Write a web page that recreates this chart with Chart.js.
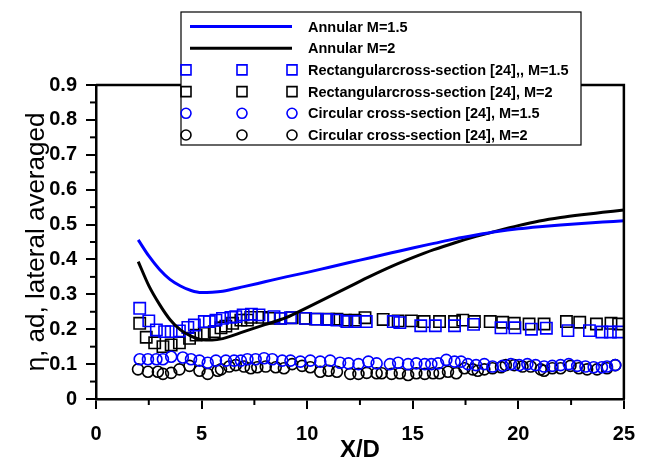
<!DOCTYPE html>
<html>
<head>
<meta charset="utf-8">
<script src="https://cdn.jsdelivr.net/npm/chart.js@4.4.1/dist/chart.umd.min.js"></script>
<style>
  body { margin: 0; background: #fff; }
  #wrap { width: 648px; height: 465px; }
</style>
</head>
<body>
<div id="wrap"><canvas id="myChart" width="648" height="465"></canvas></div>
<script>
// Annular curves (simulation)
var annularX = [2, 2.5, 3, 3.5, 4, 4.5, 5, 5.5, 6, 7, 8, 9, 10, 11, 12, 13, 14, 15, 16, 17, 18, 19, 20, 21, 22, 23, 24, 25];
var annularM15 = [0.456, 0.41, 0.372, 0.343, 0.324, 0.311, 0.305, 0.306, 0.309, 0.322, 0.336, 0.35, 0.363, 0.377, 0.391, 0.405, 0.419, 0.433, 0.446, 0.459, 0.47, 0.48, 0.488, 0.494, 0.499, 0.503, 0.507, 0.511];
var annularM2 = [0.394, 0.325, 0.272, 0.228, 0.198, 0.18, 0.17, 0.169, 0.173, 0.193, 0.213, 0.233, 0.262, 0.292, 0.322, 0.352, 0.38, 0.405, 0.428, 0.448, 0.466, 0.482, 0.497, 0.51, 0.52, 0.528, 0.535, 0.542];

// Rectangular cross-section [24]
var rectM15X = [2.07, 2.5, 2.86, 3.25, 3.56, 3.95, 4.35, 4.66, 5.13, 5.37, 5.68, 5.99, 6.39, 6.62, 6.97, 7.36, 7.72, 8.43, 8.74, 9.21, 9.92, 10.47, 10.94, 11.41, 11.88, 12.27, 12.8, 14.08, 14.39, 15.38, 16.07, 16.98, 17.88, 19.18, 19.84, 20.62, 21.33, 22.35, 23.37, 23.96, 24.36, 24.75];
var rectM15Y = [0.26, 0.224, 0.198, 0.193, 0.193, 0.195, 0.205, 0.212, 0.222, 0.222, 0.226, 0.231, 0.234, 0.236, 0.241, 0.243, 0.241, 0.236, 0.231, 0.233, 0.231, 0.229, 0.228, 0.226, 0.222, 0.222, 0.222, 0.222, 0.219, 0.21, 0.21, 0.21, 0.214, 0.204, 0.204, 0.2, 0.203, 0.196, 0.196, 0.192, 0.192, 0.192];
var rectM2X = [2.07, 2.38, 2.78, 3.17, 3.56, 3.95, 4.43, 4.74, 5.13, 5.6, 5.92, 6.15, 6.47, 6.86, 7.17, 7.33, 7.88, 8.19, 8.74, 9.29, 9.92, 10.39, 11.02, 11.41, 11.81, 12.27, 12.74, 13.6, 14.31, 14.94, 15.54, 16.27, 16.98, 17.37, 17.92, 18.67, 19.26, 19.81, 20.51, 21.22, 22.28, 22.91, 23.7, 24.39, 24.75];
var rectM2Y = [0.217, 0.177, 0.161, 0.15, 0.155, 0.161, 0.174, 0.183, 0.188, 0.193, 0.204, 0.209, 0.217, 0.226, 0.226, 0.234, 0.234, 0.231, 0.231, 0.233, 0.231, 0.229, 0.229, 0.229, 0.226, 0.226, 0.233, 0.228, 0.224, 0.224, 0.222, 0.222, 0.222, 0.226, 0.222, 0.222, 0.22, 0.217, 0.215, 0.215, 0.222, 0.22, 0.215, 0.217, 0.215];

// Circular cross-section [24]
var circM15X = [2.07, 2.46, 2.86, 3.17, 3.56, 4.11, 4.5, 4.9, 5.29, 5.68, 6.15, 6.54, 6.86, 7.17, 7.56, 7.96, 8.35, 8.82, 9.21, 9.68, 10.15, 10.62, 11.09, 11.56, 11.96, 12.43, 12.9, 13.29, 13.92, 14.31, 14.78, 15.17, 15.57, 15.88, 16.2, 16.59, 16.98, 17.29, 17.61, 18.0, 18.39, 18.78, 19.26, 19.65, 20.04, 20.43, 20.82, 21.22, 21.61, 22.0, 22.39, 22.79, 23.18, 23.57, 23.96, 24.2, 24.59];
var circM15Y = [0.114, 0.114, 0.114, 0.114, 0.121, 0.119, 0.114, 0.11, 0.104, 0.11, 0.11, 0.11, 0.11, 0.114, 0.114, 0.117, 0.114, 0.11, 0.11, 0.107, 0.11, 0.107, 0.11, 0.104, 0.102, 0.1, 0.107, 0.102, 0.1, 0.104, 0.1, 0.102, 0.1, 0.1, 0.102, 0.112, 0.107, 0.107, 0.1, 0.097, 0.1, 0.093, 0.095, 0.1, 0.097, 0.1, 0.097, 0.093, 0.095, 0.097, 0.1, 0.095, 0.093, 0.091, 0.091, 0.093, 0.097];
var circM2X = [1.99, 2.46, 2.93, 3.17, 3.56, 3.95, 4.43, 4.9, 5.29, 5.76, 5.92, 6.31, 6.62, 7.01, 7.33, 7.64, 8.04, 8.51, 8.9, 9.29, 9.76, 10.15, 10.62, 11.02, 11.41, 12.04, 12.43, 12.82, 13.29, 13.53, 14.0, 14.39, 14.78, 15.17, 15.57, 15.96, 16.27, 16.67, 17.06, 17.45, 17.84, 18.08, 18.39, 18.78, 19.18, 19.41, 19.81, 20.2, 20.59, 21.06, 21.22, 21.61, 22.0, 22.47, 22.87, 23.26, 23.73, 24.2, 24.59];
var circM2Y = [0.085, 0.078, 0.078, 0.072, 0.075, 0.085, 0.095, 0.081, 0.072, 0.081, 0.085, 0.093, 0.097, 0.093, 0.088, 0.091, 0.093, 0.091, 0.088, 0.1, 0.095, 0.091, 0.078, 0.081, 0.078, 0.072, 0.072, 0.075, 0.074, 0.074, 0.072, 0.074, 0.069, 0.074, 0.072, 0.074, 0.074, 0.078, 0.074, 0.088, 0.085, 0.081, 0.085, 0.088, 0.091, 0.097, 0.097, 0.093, 0.093, 0.085, 0.081, 0.088, 0.088, 0.095, 0.088, 0.085, 0.085, 0.088, 0.097];

var xTicks = [0, 5, 10, 15, 20, 25];
var xMinor = [2.5, 7.5, 12.5, 17.5, 22.5];
var yMinor = [0.05, 0.15, 0.25, 0.35, 0.45, 0.55, 0.65, 0.75, 0.85];

var BLUE = '#0000ff';
var BLACK = '#000000';

function pts(xs, ys) {
    return xs.map(function(x, i) { return { x: x, y: ys[i] }; });
}

Chart.defaults.font.family = '"Liberation Sans", Arial, sans-serif';
Chart.defaults.color = '#000';

// frame, minor ticks and the legend box
var framePlugin = {
    id: 'frame',
    afterDraw: function(chart) {
        var ctx = chart.ctx;
        var a = chart.chartArea;
        var xs = chart.scales.x, ys = chart.scales.y;
        ctx.save();
        ctx.strokeStyle = '#000';
        ctx.lineWidth = 2.5;
        ctx.beginPath();
        ctx.moveTo(a.left, a.top);
        ctx.lineTo(a.right, a.top);
        ctx.lineTo(a.right, a.bottom);
        ctx.stroke();

        ctx.lineWidth = 2;
        xMinor.forEach(function(v) {
            var px = xs.getPixelForValue(v);
            ctx.beginPath();
            ctx.moveTo(px, a.bottom);
            ctx.lineTo(px, a.bottom + 6);
            ctx.stroke();
        });
        yMinor.forEach(function(v) {
            var py = ys.getPixelForValue(v);
            ctx.beginPath();
            ctx.moveTo(a.left - 6, py);
            ctx.lineTo(a.left, py);
            ctx.stroke();
        });

        // legend
        ctx.fillStyle = '#fff';
        ctx.fillRect(181, 12, 400, 133);
        ctx.lineWidth = 1.2;
        ctx.strokeRect(181, 12, 400, 133);
        ctx.font = 'bold 14.5px "Liberation Sans", Arial, sans-serif';
        ctx.textBaseline = 'middle';
        chart.data.datasets.forEach(function(ds, i) {
            var y = 26.5 + i * 21.7;
            ctx.strokeStyle = ds.borderColor;
            if (ds.showLine) {
                ctx.lineWidth = 3;
                ctx.beginPath();
                ctx.moveTo(190, y);
                ctx.lineTo(292, y);
                ctx.stroke();
            } else {
                ctx.lineWidth = 1.6;
                [186, 242, 292].forEach(function(mx) {
                    ctx.beginPath();
                    if (ds.pointStyle === 'rect') {
                        ctx.rect(mx - 5, y - 5, 10, 10);
                    } else {
                        ctx.arc(mx, y, 5, 0, Math.PI * 2);
                    }
                    ctx.stroke();
                });
            }
            ctx.fillStyle = '#000';
            ctx.fillText(ds.label, 308, y + 1);
        });
        ctx.restore();
    }
};

var ctx = document.getElementById('myChart').getContext('2d');
var myChart = new Chart(ctx, {
    type: 'scatter',
    data: {
        datasets: [
            { label: 'Annular M=1.5', data: pts(annularX, annularM15), showLine: true, borderColor: BLUE, borderWidth: 3, pointRadius: 0, cubicInterpolationMode: 'monotone', order: 0 },
            { label: 'Annular M=2', data: pts(annularX, annularM2), showLine: true, borderColor: BLACK, borderWidth: 3, pointRadius: 0, cubicInterpolationMode: 'monotone', order: 0 },
            { label: 'Rectangularcross-section [24],, M=1.5', data: pts(rectM15X, rectM15Y), showLine: false, borderColor: BLUE, backgroundColor: 'rgba(0,0,0,0)', pointStyle: 'rect', pointRadius: 8, borderWidth: 1.6, order: 1 },
            { label: 'Rectangularcross-section [24], M=2', data: pts(rectM2X, rectM2Y), showLine: false, borderColor: BLACK, backgroundColor: 'rgba(0,0,0,0)', pointStyle: 'rect', pointRadius: 8, borderWidth: 1.6, order: 2 },
            { label: 'Circular cross-section [24], M=1.5', data: pts(circM15X, circM15Y), showLine: false, borderColor: BLUE, backgroundColor: 'rgba(0,0,0,0)', pointStyle: 'circle', pointRadius: 5.5, borderWidth: 1.6, order: 1 },
            { label: 'Circular cross-section [24], M=2', data: pts(circM2X, circM2Y), showLine: false, borderColor: BLACK, backgroundColor: 'rgba(0,0,0,0)', pointStyle: 'circle', pointRadius: 5.5, borderWidth: 1.6, order: 2 }
        ]
    },
    options: {
        responsive: false,
        animation: false,
        devicePixelRatio: 1,
        layout: { padding: { top: 85, right: 21, left: 0, bottom: 0 } },
        plugins: { legend: { display: false }, tooltip: { enabled: false } },
        scales: {
            x: {
                type: 'linear', min: 0, max: 25,
                afterFit: function(s) { s.height = 66; },
                afterBuildTicks: function(s) { s.ticks = xTicks.map(function(v) { return { value: v }; }); },
                border: { color: '#000', width: 2.5 },
                grid: { drawOnChartArea: false, color: '#000', tickLength: 10, lineWidth: 2 },
                ticks: { padding: 13, font: { size: 20, weight: 'bold' }, maxRotation: 0 },
                title: { display: true, text: 'X/D', font: { size: 24, weight: 'bold' }, padding: { top: 0, bottom: 0 } }
            },
            y: {
                type: 'linear', min: 0, max: 0.9,
                afterFit: function(s) { s.width = 96; },
                border: { color: '#000', width: 2.5 },
                grid: { drawOnChartArea: false, color: '#000', tickLength: 10, lineWidth: 2 },
                ticks: { stepSize: 0.1, padding: 9, font: { size: 20, weight: 'bold' },
                    callback: function(v) { return v === 0 ? '0' : v.toFixed(1); } },
                title: { display: true, text: 'η, ad, lateral averaged', font: { size: 26, weight: 'normal' }, padding: { top: 21, bottom: 0 } }
            }
        }
    },
    plugins: [framePlugin]
});
</script>
</body>
</html>
